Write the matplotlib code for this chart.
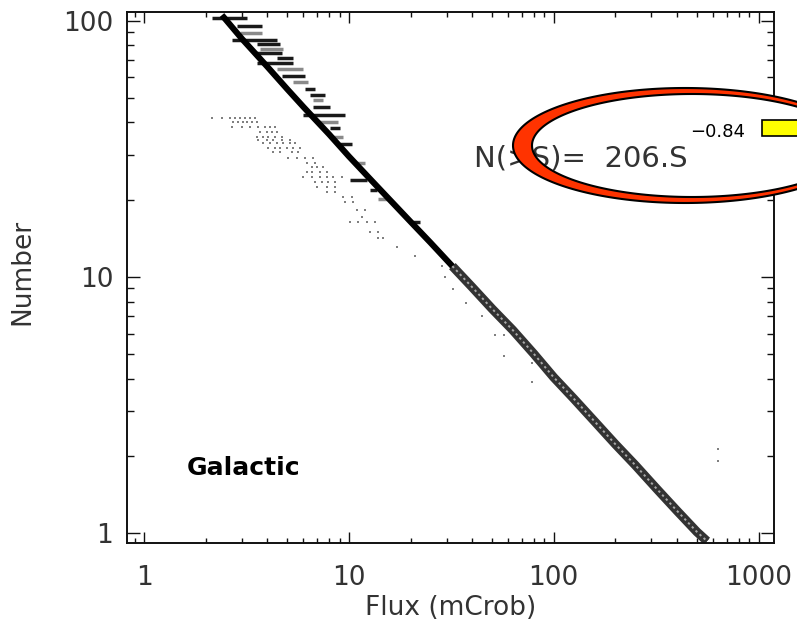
import numpy as np
import matplotlib
matplotlib.use("Agg")
import matplotlib.pyplot as plt
from matplotlib.patches import Ellipse, PathPatch, Rectangle
from matplotlib.path import Path

# power-law fit quoted in the annotation
norm = 206
index = -0.84

# cumulative source counts along the main curve
band_flux = [2.4, 3, 4, 5, 6, 8, 10, 13, 16, 20, 25, 32, 40, 50, 63, 80,
             100, 125, 160, 200, 250, 320, 400, 500, 560]
band_n = [105, 85, 66, 54, 46, 36, 29.5, 23.6, 19.8, 16.4, 13.6, 11.0, 9.1,
          7.5, 6.2, 5.0, 4.05, 3.35, 2.7, 2.22, 1.84, 1.48, 1.22, 1.01, 0.93]

# flux spread at the bright end
bar_n = [101.9, 94.8, 89.7, 84.3, 81.3, 77.1, 75.0, 71.7, 68.5, 64.9, 61.0,
         57.8, 54.2, 51.4, 49.1, 46.1, 42.9, 40.3, 38.2, 35.2, 33.1, 27.9,
         23.9, 21.9, 20.2, 16.3]
bar_lo = [2.15, 2.85, 2.94, 2.69, 3.56, 3.69, 3.49, 4.47, 3.56, 4.47, 4.72,
          5.35, 6.12, 6.47, 6.69, 6.69, 5.98, 7.08, 8.11, 8.38, 9.07, 10.9,
          10.1, 12.7, 13.9, 20.6]
bar_hi = [3.19, 3.77, 3.77, 4.47, 4.62, 4.78, 4.72, 5.35, 5.35, 5.98, 6.12,
          6.33, 6.85, 7.66, 7.49, 8.11, 9.59, 8.87, 9.07, 9.38, 10.4, 12.0,
          12.3, 13.7, 15.4, 22.3]
bar_grey = [False, False, True, False, False, True, False, False, False, True,
            False, True, False, False, True, False, False, True, False, True,
            False, True, False, False, True, False]

# second sample, faint dots (one row per count level)
dot_levels = [41.8, 40.3, 38.5, 36.8, 35.2, 34.3, 33.4, 31.9, 30.8, 29.2,
              27.9, 26.9, 25.7, 24.6, 23.5, 22.5, 21.5, 20.5, 19.5, 18.3,
              17.1, 16.3, 15.0, 14.2, 13.1, 12.1, 11.0, 10.0, 8.98, 7.92,
              7.05, 5.93, 4.91, 4.61, 3.89, 2.13, 1.91]
dot_fluxes = [
    [2.15, 2.40, 2.63, 2.78, 2.94, 3.11, 3.29, 3.49],
    [2.72, 2.88, 3.05, 3.19, 3.37, 3.56],
    [2.69, 3.01, 3.29, 3.61, 3.90, 4.13, 4.37],
    [3.69, 3.99, 4.22, 4.47],
    [3.56, 3.81, 4.04, 4.37, 4.72],
    [3.61, 3.99, 4.27, 4.72, 5.17],
    [3.81, 4.13, 4.47, 4.78, 5.17, 5.47],
    [4.04, 4.37, 4.62, 5.00, 5.35, 5.78],
    [4.27, 4.62, 5.28, 5.65],
    [5.05, 5.59, 6.12, 6.69],
    [6.26, 6.85],
    [6.62, 7.00, 7.49],
    [6.26, 6.62, 7.24, 7.84],
    [5.98, 6.62, 7.24, 7.84, 8.38, 9.28],
    [6.85, 7.41, 7.93, 8.57],
    [7.00, 7.84, 8.57],
    [7.84, 8.57],
    [9.38, 10.4],
    [9.59, 10.5],
    [11.0, 12.0],
    [11.6],
    [10.1, 11.1, 12.3, 13.4],
    [12.7, 13.9],
    [13.9, 14.7],
    [17.2],
    [21.1],
    [28.6],
    [29.5],
    [32.3],
    [37.4],
    [44.8],
    [51.8, 57.4],
    [57.4],
    [78.6],
    [78.6],
    [637],
    [637],
]

xticks = [1, 10, 100, 1000]
yticks = [1, 10, 100]

plt.rcParams['font.family'] = ['DejaVu Sans']
fig = plt.figure(figsize=(7.97, 6.30), dpi=100)
ax = fig.add_axes([0.1594, 0.1381, 0.8118, 0.8429])
ax.set_xscale('log')
ax.set_yscale('log')
ax.set_xlim(0.826, 1190)
ax.set_ylim(0.914, 108)

# faint second sample
for lev, fl in zip(dot_levels, dot_fluxes):
    ax.plot(fl, [lev] * len(fl), linestyle='none', marker='s', ms=2.0,
            mew=0, color='#808080')

# bars
for n, lo, hi, g in zip(bar_n, bar_lo, bar_hi, bar_grey):
    ax.plot([lo, hi], [n, n], color='#8a8a8a' if g else '#1a1a1a', lw=2.5,
            solid_capstyle='butt')

# main curve: solid at the bright end, open-circle texture further down
ax.plot(band_flux, band_n, color='black', lw=4.4, solid_capstyle='butt')
faint = [i for i, f in enumerate(band_flux) if f >= 32]
ff = [band_flux[i] for i in faint]
fn = [band_n[i] for i in faint]
ax.plot(ff, fn, color='#333333', lw=6.5, solid_capstyle='butt')
ax.plot(ff, fn, color='#a8a8a8', lw=1.4, linestyle=(0, (1.2, 1.6)))

ax.set_xticks(xticks)
ax.set_xticklabels([str(v) for v in xticks])
ax.set_yticks(yticks)
ax.set_yticklabels([str(v) for v in yticks])
ax.tick_params(which='both', direction='in', top=True, right=True,
               colors='#111111', labelcolor='#333333', labelsize=19)
ax.tick_params(axis='x', which='major', length=7.6, width=1, pad=16)
ax.tick_params(axis='x', which='minor', length=3.8, width=1)
ax.tick_params(axis='y', which='major', length=9.4, width=1, pad=10)
ax.tick_params(axis='y', which='minor', length=4.7, width=1)
for sp in ax.spines.values():
    sp.set_linewidth(1.4)
    sp.set_color('#111111')

ax.set_xlabel('Flux (mCrob)', fontsize=19, color='#333333')
ax.set_ylabel('Number', fontsize=19, color='#333333')
ax.xaxis.set_label_coords(0.5, -0.098)
ax.yaxis.set_label_coords(-0.142, 0.51)

fig.text(0.2346, 0.246, 'Galactic', fontsize=18, fontweight='bold',
         color='black')

# highlighted fit annotation
W, H = 797.0, 630.0
t = np.linspace(0, 2 * np.pi, 240)
ocx, ocy, oa, ob = 685 / W, 1 - 145.5 / H, 172 / W, 57.5 / H
icx, icy, ia, ib = 692 / W, 1 - 145.5 / H, 160 / W, 51.5 / H
outer = np.column_stack([ocx + oa * np.cos(t), ocy + ob * np.sin(t)])
inner = np.column_stack([icx + ia * np.cos(t), icy + ib * np.sin(t)])[::-1]
ring = Path.make_compound_path(Path(outer, closed=True), Path(inner, closed=True))

fig.patches.append(Ellipse((icx, icy), 2 * ia, 2 * ib, transform=fig.transFigure,
                           facecolor='white', edgecolor='none', zorder=1))
fig.text(474 / W, 1 - 167 / H, 'N(>S)=  %d.S' % norm, fontsize=21,
         color='#333333', zorder=3)
fig.text(690 / W, 1 - 137 / H, '\u2212%.2f' % abs(index), fontsize=13,
         color='black', zorder=3)
fig.patches.append(PathPatch(ring, transform=fig.transFigure,
                             facecolor='#ff3300', edgecolor='black', lw=1.5,
                             zorder=4))
fig.patches.append(Rectangle((762 / W, 1 - 136 / H), 0.08, 16 / H,
                             transform=fig.transFigure, facecolor='#ffff00',
                             edgecolor='black', lw=1.2, zorder=5))

fig.savefig('out.png', dpi=100)
